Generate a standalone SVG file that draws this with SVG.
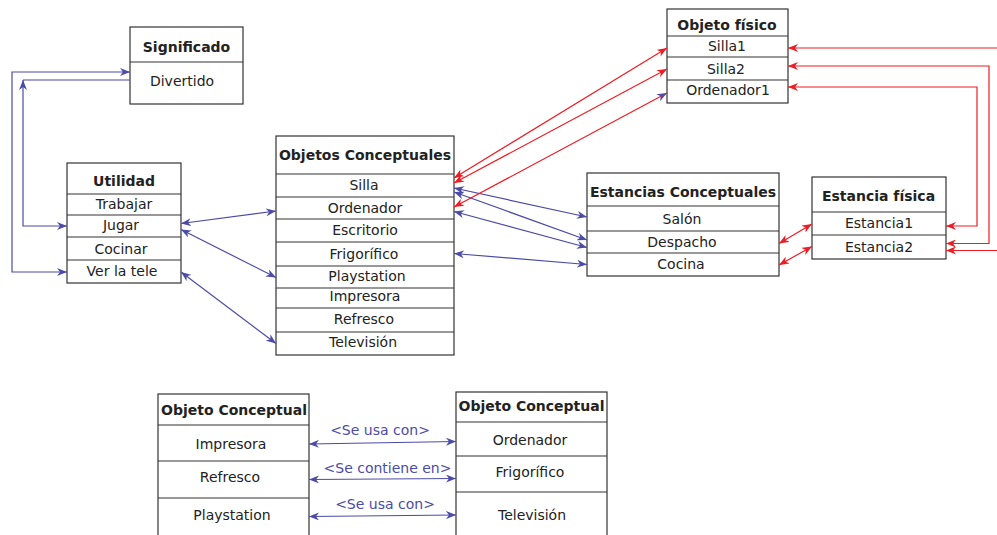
<svg xmlns="http://www.w3.org/2000/svg" width="997" height="535" viewBox="0 0 997 535">
<style>
.box{fill:#fff;stroke:#333;stroke-width:1.2}
.sep{stroke:#333;stroke-width:1.2}
.h{font-family:"DejaVu Sans",Verdana,sans-serif;font-size:14px;font-weight:bold;fill:#222;text-anchor:middle}
.t{font-family:"DejaVu Sans",Verdana,sans-serif;font-size:14px;fill:#222;text-anchor:middle}
.lbl{font-family:"DejaVu Sans",Verdana,sans-serif;font-size:14px;fill:#4b4ba8;text-anchor:middle}
.b{fill:none;stroke:#4b4ba8;stroke-width:1.2}
.r{fill:none;stroke:#ee1c24;stroke-width:1.2}
</style>
<defs>
<marker id="ab" viewBox="0 0 10 8" refX="10" refY="4" markerWidth="10" markerHeight="8" markerUnits="userSpaceOnUse" orient="auto-start-reverse"><path d="M0,0 L10,4 L0,8 L3,4 z" fill="#4b4ba8"/></marker>
<marker id="ar" viewBox="0 0 10 8" refX="10" refY="4" markerWidth="10" markerHeight="8" markerUnits="userSpaceOnUse" orient="auto-start-reverse"><path d="M0,0 L10,4 L0,8 L3,4 z" fill="#ee1c24"/></marker>
</defs>

<g id="significado">
<rect class="box" x="130" y="27" width="113" height="77"/>
<line class="sep" x1="130" y1="62" x2="243" y2="62"/>
<text class="h" x="186.5" y="52">Significado</text>
<text class="t" x="182" y="86">Divertido</text>
</g>

<g id="utilidad">
<rect class="box" x="67" y="163" width="114" height="120"/>
<line class="sep" x1="67" y1="194" x2="181" y2="194"/>
<line class="sep" x1="67" y1="215" x2="181" y2="215"/>
<line class="sep" x1="67" y1="237" x2="181" y2="237"/>
<line class="sep" x1="67" y1="260" x2="181" y2="260"/>
<text class="h" x="124" y="186">Utilidad</text>
<text class="t" x="124" y="208.5">Trabajar</text>
<text class="t" x="121" y="230">Jugar</text>
<text class="t" x="121" y="253.5">Cocinar</text>
<text class="t" x="122" y="276">Ver la tele</text>
</g>

<g id="objetos-conceptuales">
<rect class="box" x="276" y="136" width="178" height="219"/>
<line class="sep" x1="276" y1="174" x2="454" y2="174"/>
<line class="sep" x1="276" y1="197" x2="454" y2="197"/>
<line class="sep" x1="276" y1="219" x2="454" y2="219"/>
<line class="sep" x1="276" y1="242" x2="454" y2="242"/>
<line class="sep" x1="276" y1="266" x2="454" y2="266"/>
<line class="sep" x1="276" y1="288" x2="454" y2="288"/>
<line class="sep" x1="276" y1="308" x2="454" y2="308"/>
<line class="sep" x1="276" y1="332" x2="454" y2="332"/>
<text class="h" x="365" y="160">Objetos Conceptuales</text>
<text class="t" x="364" y="190">Silla</text>
<text class="t" x="365" y="212.5">Ordenador</text>
<text class="t" x="365" y="235">Escritorio</text>
<text class="t" x="364" y="258.5">Frigorífico</text>
<text class="t" x="367" y="281">Playstation</text>
<text class="t" x="365" y="301">Impresora</text>
<text class="t" x="364" y="324">Refresco</text>
<text class="t" x="363" y="347">Televisión</text>
</g>

<g id="objeto-fisico">
<rect class="box" x="667" y="9" width="121" height="94"/>
<line class="sep" x1="667" y1="36" x2="788" y2="36"/>
<line class="sep" x1="667" y1="57" x2="788" y2="57"/>
<line class="sep" x1="667" y1="80" x2="788" y2="80"/>
<text class="h" x="727" y="29.5">Objeto físico</text>
<text class="t" x="727" y="51">Silla1</text>
<text class="t" x="726" y="73.5">Silla2</text>
<text class="t" x="728" y="95">Ordenador1</text>
</g>

<g id="estancias-conceptuales">
<rect class="box" x="587" y="173" width="192" height="103"/>
<line class="sep" x1="587" y1="206" x2="779" y2="206"/>
<line class="sep" x1="587" y1="231" x2="779" y2="231"/>
<line class="sep" x1="587" y1="253" x2="779" y2="253"/>
<text class="h" x="683" y="197">Estancias Conceptuales</text>
<text class="t" x="682" y="223.5">Salón</text>
<text class="t" x="682" y="247">Despacho</text>
<text class="t" x="681" y="269">Cocina</text>
</g>

<g id="estancia-fisica">
<rect class="box" x="812" y="177" width="134" height="82"/>
<line class="sep" x1="812" y1="212" x2="946" y2="212"/>
<line class="sep" x1="812" y1="235" x2="946" y2="235"/>
<text class="h" x="878.5" y="201">Estancia física</text>
<text class="t" x="879" y="227.5">Estancia1</text>
<text class="t" x="879" y="252">Estancia2</text>
</g>

<g id="objeto-conceptual-a">
<rect class="box" x="158" y="394" width="151" height="150"/>
<line class="sep" x1="158" y1="425" x2="309" y2="425"/>
<line class="sep" x1="158" y1="461" x2="309" y2="461"/>
<line class="sep" x1="158" y1="498" x2="309" y2="498"/>
<text class="h" x="234" y="414.5">Objeto Conceptual</text>
<text class="t" x="231" y="448.5">Impresora</text>
<text class="t" x="230" y="482">Refresco</text>
<text class="t" x="232" y="520">Playstation</text>
</g>

<g id="objeto-conceptual-b">
<rect class="box" x="456" y="392" width="151" height="150"/>
<line class="sep" x1="456" y1="422" x2="607" y2="422"/>
<line class="sep" x1="456" y1="456" x2="607" y2="456"/>
<line class="sep" x1="456" y1="492" x2="607" y2="492"/>
<text class="h" x="531.5" y="411">Objeto Conceptual</text>
<text class="t" x="530" y="444.5">Ordenador</text>
<text class="t" x="530" y="477">Frigorífico</text>
<text class="t" x="532" y="520">Televisión</text>
</g>

<g id="connectors">
<!-- left loops -->
<path class="b" d="M130,80 H23"/>
<path class="b" d="M67,226 H23 V80" marker-start="url(#ab)" marker-end="url(#ab)"/>
<path class="b" d="M130,72 H12 V272 H67" marker-start="url(#ab)" marker-end="url(#ab)"/>
<!-- Utilidad to Objetos -->
<path class="b" d="M181,223.5 L276,211" marker-start="url(#ab)" marker-end="url(#ab)"/>
<path class="b" d="M181,229.5 L276,277.5" marker-start="url(#ab)" marker-end="url(#ab)"/>
<path class="b" d="M181,272 L276,343.5" marker-start="url(#ab)" marker-end="url(#ab)"/>
<!-- Objetos to Estancias Conceptuales -->
<path class="b" d="M454,188 L587,217" marker-start="url(#ab)" marker-end="url(#ab)"/>
<path class="b" d="M454,192 L587,240" marker-start="url(#ab)" marker-end="url(#ab)"/>
<path class="b" d="M454,211.5 L587,247.5" marker-start="url(#ab)" marker-end="url(#ab)"/>
<path class="b" d="M454,253.5 L587,264.5" marker-start="url(#ab)" marker-end="url(#ab)"/>
<!-- Objetos to Objeto fisico -->
<path class="r" d="M454,178 L667,48" marker-start="url(#ar)" marker-end="url(#ar)"/>
<path class="r" d="M454,183 L667,69" marker-start="url(#ar)" marker-end="url(#ar)"/>
<path class="r" d="M454,207 L667,93" marker-start="url(#ar)" marker-end="url(#ab)"/>
<!-- Estancias Conceptuales to Estancia fisica -->
<path class="r" d="M779,243.5 L812,224" marker-start="url(#ar)" marker-end="url(#ar)"/>
<path class="r" d="M779,265 L812,246.5" marker-start="url(#ar)" marker-end="url(#ar)"/>
<!-- right side -->
<path class="r" d="M997,48 H788" marker-end="url(#ar)"/>
<path class="r" d="M788,66 H989 V243.5 H946" marker-start="url(#ar)" marker-end="url(#ar)"/>
<path class="r" d="M788,87 H977 V226 H946" marker-start="url(#ar)" marker-end="url(#ar)"/>
<path class="r" d="M997,250.5 H946" marker-end="url(#ar)"/>
<!-- bottom -->
<path class="b" d="M309,444 L456,441.5" marker-start="url(#ab)" marker-end="url(#ab)"/>
<path class="b" d="M309,479.5 L456,478.5" marker-start="url(#ab)" marker-end="url(#ab)"/>
<path class="b" d="M309,516.5 L456,515" marker-start="url(#ab)" marker-end="url(#ab)"/>
<text class="lbl" x="380" y="435">&lt;Se usa con&gt;</text>
<text class="lbl" x="387.5" y="472.5">&lt;Se contiene en&gt;</text>
<text class="lbl" x="385" y="509">&lt;Se usa con&gt;</text>
</g>
</svg>
